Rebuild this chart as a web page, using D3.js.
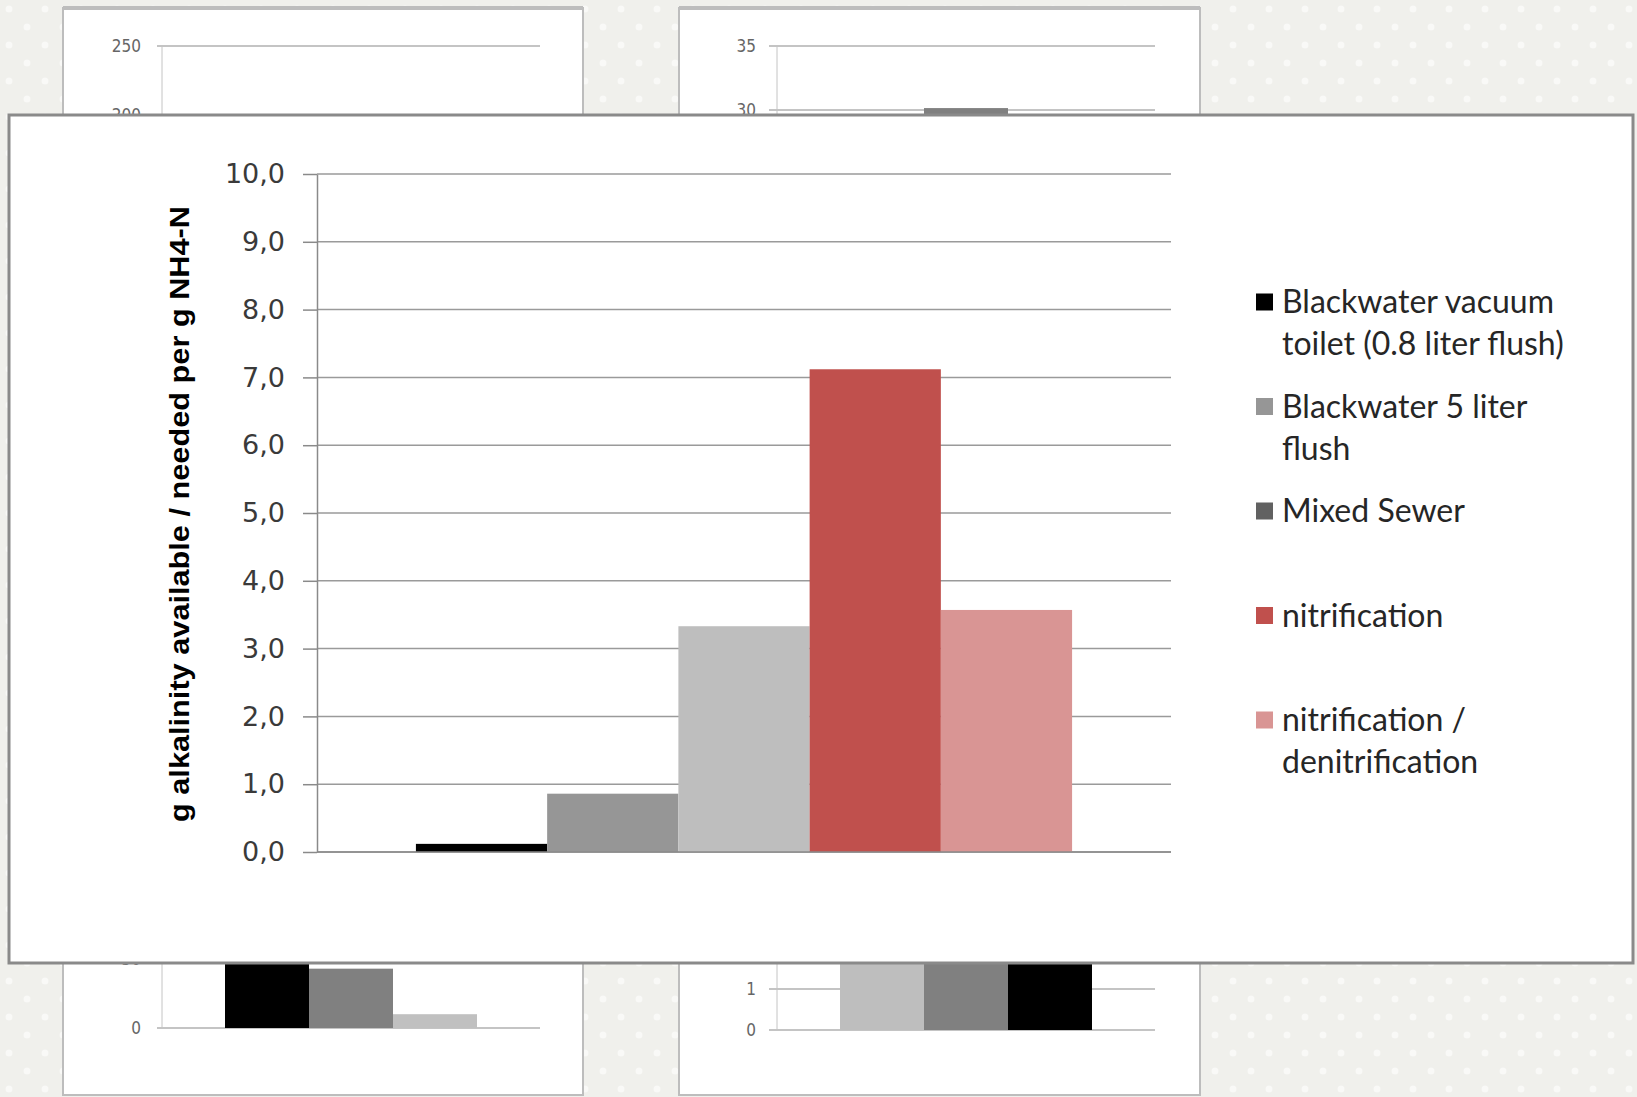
<!DOCTYPE html>
<html>
<head>
<meta charset="utf-8">
<script src="https://cdn.jsdelivr.net/npm/d3@7"></script>
<style>
  html, body { margin: 0; padding: 0; background: #fff; }
  svg { display: block; }
</style>
</head>
<body>
<svg id="chart" width="1637" height="1097"></svg>
<script>
// ---------- main chart data ----------
const category = ["all"];
const seriesNames = [
  "Blackwater vacuum toilet (0.8 liter flush)",
  "Blackwater 5 liter flush",
  "Mixed Sewer",
  "nitrification",
  "nitrification / denitrification"
];
const seriesValues = [0.12, 0.86, 3.33, 7.12, 3.57];
const barColors = ["#000000", "#969696", "#bebebe", "#c0504d", "#d99594"];
const legendColors = ["#000000", "#969696", "#616161", "#c0504d", "#d99594"];
const legendLines = [
  ["Blackwater vacuum", "toilet (0.8 liter flush)"],
  ["Blackwater 5 liter", "flush"],
  ["Mixed Sewer"],
  ["nitrification"],
  ["nitrification /", "denitrification"]
];
const yTicks = [0, 1, 2, 3, 4, 5, 6, 7, 8, 9, 10];
const yTitle = "g alkalinity available / needed per g NH4-N";

// ---------- background (partly hidden) charts data ----------
const bgLeftTicks = [0, 50, 200, 250];
const bgLeftSeries = ["a", "b", "c"];
const bgLeftValues = [150, 43, 10];
const bgLeftColors = ["#000000", "#808080", "#c0c0c0"];
const bgRightTicks = [0, 1, 30, 35];
const bgRightSeries = ["a", "b", "c"];
const bgRightValues = [10, 30.15, 8];
const bgRightColors = ["#bebebe", "#808080", "#000000"];

const svg = d3.select("#chart");

// ---------- background pattern ----------
const defs = svg.append("defs");
const pat = defs.append("pattern").attr("id", "dots")
  .attr("patternUnits", "userSpaceOnUse").attr("width", 36).attr("height", 36);
pat.append("rect").attr("width", 36).attr("height", 36).attr("fill", "#f0f0ec");
pat.append("circle").attr("cx", 9).attr("cy", 9).attr("r", 3.5).attr("fill", "#f9f9f7");
pat.append("circle").attr("cx", 27).attr("cy", 27).attr("r", 3.5).attr("fill", "#f9f9f7");

svg.append("rect").attr("width", 1637).attr("height", 1097).attr("fill", "url(#dots)");

// ---------- background chart helper ----------
function bgChart(px, pw, axisX, gx0, gx1, labelX, ticks, yr, series, values, colors, barX0, barX1) {
  const g = svg.append("g");
  g.append("rect").attr("x", px).attr("y", 8).attr("width", pw).attr("height", 1087)
    .attr("fill", "#fff").attr("stroke", "#bdbdbd").attr("stroke-width", 2);
  g.append("line").attr("x1", px).attr("x2", px + pw).attr("y1", 8).attr("y2", 8)
    .attr("stroke", "#bdbdbd").attr("stroke-width", 4);
  const y = d3.scaleLinear().domain(ticks).range(yr);
  const xb = d3.scaleBand().domain(series).range([barX0, barX1]);
  g.selectAll("line.grid").data(ticks).join("line").attr("class", "grid")
    .attr("x1", gx0).attr("x2", gx1).attr("y1", d => y(d)).attr("y2", d => y(d))
    .attr("stroke", "#c4c4c4").attr("stroke-width", 2);
  g.append("line").attr("x1", axisX).attr("x2", axisX).attr("y1", y(ticks[ticks.length - 1])).attr("y2", y(0))
    .attr("stroke", "#c4c4c4").attr("stroke-width", 1);
  g.selectAll("text.tl").data(ticks).join("text").attr("class", "tl")
    .attr("x", labelX).attr("y", d => y(d)).attr("dy", "0.35em").attr("text-anchor", "end")
    .attr("font-family", "'Liberation Sans Narrow', 'DejaVu Sans Condensed', sans-serif")
    .attr("font-size", 17).attr("fill", "#666").text(d => d);
  g.selectAll("rect.bar").data(series).join("rect").attr("class", "bar")
    .attr("x", d => xb(d)).attr("width", xb.bandwidth())
    .attr("y", (d, i) => y(values[i])).attr("height", (d, i) => y(0) - y(values[i]))
    .attr("fill", (d, i) => colors[i]);
}
bgChart(63, 520, 162, 157, 540, 141, bgLeftTicks, [1028, 959, 115, 46], bgLeftSeries, bgLeftValues, bgLeftColors, 225, 477);
bgChart(679, 521, 777, 769, 1155, 756, bgRightTicks, [1030, 989, 110, 46], bgRightSeries, bgRightValues, bgRightColors, 840, 1092);

// ---------- main panel ----------
svg.append("rect").attr("x", 9).attr("y", 115).attr("width", 1624).attr("height", 848)
  .attr("fill", "#fff").attr("stroke", "#8a8a8a").attr("stroke-width", 3);

const plot = { left: 317, right: 1171, top: 174, bottom: 852 };
const y = d3.scaleLinear().domain([0, 10]).range([plot.bottom, plot.top]);
const x0 = d3.scaleBand().domain(category).range([plot.left, plot.right]).paddingInner(0.131).paddingOuter(0.131);
const x1 = d3.scaleBand().domain(seriesNames).range([0, x0.bandwidth()]);

const main = svg.append("g");
// gridlines
main.selectAll("line.grid").data(yTicks).join("line").attr("class", "grid")
  .attr("x1", plot.left).attr("x2", plot.right)
  .attr("y1", d => y(d)).attr("y2", d => y(d))
  .attr("stroke", "#9a9a9a").attr("stroke-width", 1.5);

// bars
main.append("g").attr("transform", `translate(${x0(category[0])},0)`)
  .selectAll("rect").data(seriesNames).join("rect")
  .attr("x", d => x1(d)).attr("width", x1.bandwidth())
  .attr("y", (d, i) => y(seriesValues[i]))
  .attr("height", (d, i) => y(0) - y(seriesValues[i]))
  .attr("fill", (d, i) => barColors[i]);

// y axis
const fmt = v => d3.format(".1f")(v).replace(".", ",");
const axis = d3.axisLeft(y).tickValues(yTicks).tickFormat(fmt).tickSizeInner(14).tickSizeOuter(0).tickPadding(18);
const ag = main.append("g").attr("transform", `translate(${plot.left},0)`).call(axis);
ag.select(".domain").attr("stroke", "#8a8a8a").attr("stroke-width", 1.5);
ag.selectAll(".tick line").attr("stroke", "#8a8a8a").attr("stroke-width", 1.5);
ag.selectAll(".tick text").attr("font-family", "'DejaVu Sans', sans-serif").attr("font-size", 27).attr("fill", "#3a3a3a");
// baseline over bars
main.append("line").attr("x1", plot.left).attr("x2", plot.right).attr("y1", y(0)).attr("y2", y(0))
  .attr("stroke", "#8a8a8a").attr("stroke-width", 1.5);

// y title
main.append("text")
  .attr("transform", `translate(189, ${(206 + 822) / 2}) rotate(-90)`)
  .attr("text-anchor", "middle")
  .attr("font-family", "'Liberation Sans', Arial, sans-serif").attr("font-weight", "bold")
  .attr("font-size", 27).attr("fill", "#000")
  .attr("textLength", 616).attr("lengthAdjust", "spacingAndGlyphs")
  .text(yTitle);

// legend
const lg = main.append("g");
const items = lg.selectAll("g").data(seriesNames).join("g")
  .attr("transform", (d, i) => `translate(1256, ${302 + i * 104.5})`);
items.append("rect").attr("x", 0).attr("y", -8.5).attr("width", 17).attr("height", 17)
  .attr("fill", (d, i) => legendColors[i]);
items.each(function (d, i) {
  const t = d3.select(this).append("text")
    .attr("font-family", "Lato, 'Open Sans', sans-serif").attr("font-size", 32).attr("fill", "#262626");
  legendLines[i].forEach((ln, j) => {
    t.append("tspan").attr("x", 26).attr("y", 11 + j * 42).text(ln);
  });
});
</script>
</body>
</html>
